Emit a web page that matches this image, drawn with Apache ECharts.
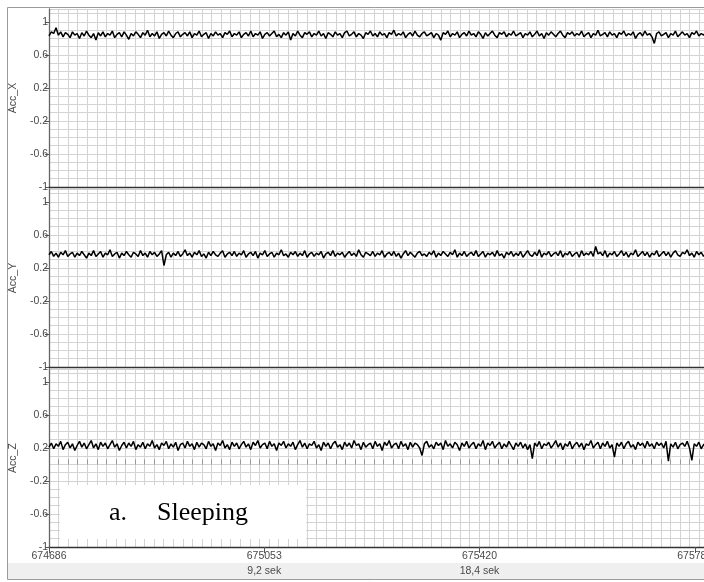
<!DOCTYPE html>
<html><head><meta charset="utf-8">
<script src="https://cdn.jsdelivr.net/npm/echarts@6/dist/echarts.min.js"></script>
<style>html,body{margin:0;padding:0;overflow:hidden;background:#fff}#c{width:740px;height:582px}</style>
</head><body><div id="c"></div><script>
const channels = ['Acc_X', 'Acc_Y', 'Acc_Z'];
const xTicks = [674686, 675053, 675420, 675787];
const timeLabels = ['', '9,2 sek', '18,4 sek', ''];
const yTicks = [-1, -0.6, -0.2, 0.2, 0.6, 1];
const sampleStart = 674686;
const sampleStep = 4;

const accX = [
0.83,0.88,0.86,0.93,0.84,0.88,0.82,0.87,0.85,0.81,0.88,0.84,0.86,0.80,0.87,0.83,0.89,0.84,0.81,0.86,
0.78,0.87,0.83,0.88,0.82,0.86,0.84,0.89,0.81,0.85,0.87,0.82,0.88,0.84,0.79,0.86,0.83,0.88,0.85,0.81,
0.87,0.84,0.90,0.82,0.86,0.83,0.88,0.80,0.85,0.87,0.83,0.89,0.84,0.81,0.86,0.88,0.82,0.85,0.87,0.83,
0.88,0.81,0.86,0.84,0.89,0.82,0.85,0.87,0.80,0.86,0.83,0.88,0.84,0.86,0.81,0.87,0.85,0.89,0.82,0.86,
0.84,0.88,0.81,0.85,0.87,0.83,0.89,0.82,0.86,0.84,0.88,0.80,0.85,0.87,0.83,0.86,0.89,0.82,0.85,0.81,
0.87,0.84,0.88,0.78,0.86,0.83,0.89,0.84,0.81,0.87,0.85,0.88,0.82,0.86,0.84,0.89,0.83,0.86,0.80,0.87,
0.85,0.82,0.88,0.84,0.86,0.81,0.87,0.89,0.83,0.85,0.88,0.82,0.86,0.84,0.80,0.87,0.85,0.89,0.83,0.86,
0.82,0.88,0.84,0.86,0.81,0.87,0.85,0.90,0.83,0.86,0.84,0.88,0.81,0.85,0.87,0.83,0.89,0.84,0.82,0.86,
0.88,0.83,0.85,0.87,0.81,0.86,0.84,0.78,0.87,0.85,0.89,0.82,0.86,0.84,0.88,0.81,0.85,0.87,0.83,0.89,
0.84,0.86,0.82,0.88,0.85,0.80,0.87,0.83,0.86,0.89,0.84,0.81,0.87,0.85,0.88,0.82,0.86,0.84,0.89,0.83,
0.85,0.87,0.81,0.86,0.84,0.88,0.82,0.85,0.89,0.83,0.86,0.80,0.87,0.84,0.88,0.85,0.82,0.86,0.89,0.84,
0.81,0.87,0.85,0.88,0.83,0.86,0.84,0.89,0.82,0.85,0.87,0.81,0.86,0.84,0.90,0.83,0.85,0.87,0.82,0.88,
0.84,0.86,0.81,0.87,0.85,0.89,0.83,0.86,0.84,0.88,0.80,0.85,0.87,0.83,0.89,0.84,0.86,0.82,0.74,0.86,
0.88,0.83,0.85,0.87,0.81,0.86,0.84,0.89,0.82,0.85,0.88,0.84,0.86,0.81,0.87,0.85,0.89,0.83,0.86,0.84,
0.88,0.82,0.85,0.87,0.83,0.86,0.84
];
const accY = [
0.36,0.40,0.34,0.38,0.33,0.39,0.36,0.41,0.34,0.37,0.39,0.33,0.38,0.35,0.40,0.36,0.32,0.38,0.35,0.41,
0.34,0.37,0.40,0.33,0.38,0.36,0.42,0.34,0.37,0.39,0.32,0.38,0.35,0.40,0.36,0.33,0.39,0.37,0.34,0.41,
0.35,0.38,0.33,0.40,0.36,0.39,0.34,0.37,0.41,0.23,0.36,0.39,0.33,0.38,0.35,0.40,0.34,0.37,0.42,0.35,
0.38,0.33,0.39,0.36,0.41,0.34,0.37,0.32,0.39,0.35,0.40,0.36,0.34,0.38,0.41,0.33,0.37,0.39,0.35,0.40,
0.34,0.38,0.36,0.41,0.33,0.37,0.39,0.35,0.40,0.32,0.38,0.36,0.41,0.34,0.37,0.39,0.33,0.38,0.36,0.42,
0.35,0.37,0.33,0.39,0.36,0.40,0.34,0.38,0.35,0.41,0.33,0.37,0.39,0.34,0.38,0.36,0.40,0.32,0.37,0.39,
0.35,0.41,0.34,0.38,0.36,0.39,0.33,0.37,0.40,0.35,0.38,0.34,0.42,0.36,0.33,0.39,0.37,0.35,0.40,0.34,
0.38,0.36,0.41,0.33,0.37,0.39,0.35,0.40,0.34,0.38,0.32,0.37,0.41,0.35,0.39,0.36,0.33,0.38,0.40,0.35,
0.37,0.34,0.39,0.36,0.41,0.33,0.38,0.35,0.40,0.37,0.34,0.39,0.36,0.42,0.33,0.38,0.35,0.40,0.34,0.37,
0.39,0.35,0.41,0.34,0.37,0.40,0.33,0.38,0.36,0.39,0.34,0.41,0.35,0.37,0.32,0.39,0.36,0.40,0.34,0.38,
0.35,0.40,0.33,0.37,0.41,0.36,0.34,0.39,0.35,0.42,0.33,0.38,0.36,0.40,0.34,0.37,0.39,0.35,0.41,0.33,
0.38,0.36,0.40,0.34,0.37,0.39,0.33,0.41,0.35,0.38,0.36,0.40,0.34,0.46,0.37,0.39,0.35,0.41,0.33,0.38,
0.36,0.40,0.34,0.37,0.41,0.35,0.39,0.33,0.38,0.36,0.42,0.34,0.37,0.40,0.35,0.39,0.33,0.38,0.36,0.41,
0.34,0.37,0.40,0.35,0.39,0.33,0.38,0.41,0.36,0.34,0.39,0.37,0.42,0.35,0.38,0.33,0.40,0.36,0.39,0.34,
0.38,0.41,0.35,0.37,0.40,0.34,0.38
];
const accZ = [
0.21,0.26,0.19,0.25,0.22,0.28,0.18,0.24,0.27,0.20,0.25,0.17,0.23,0.28,0.21,0.26,0.19,0.24,0.29,0.20,
0.25,0.18,0.27,0.22,0.26,0.19,0.24,0.29,0.21,0.25,0.17,0.23,0.27,0.20,0.26,0.22,0.28,0.18,0.24,0.21,
0.27,0.19,0.25,0.22,0.29,0.20,0.24,0.18,0.26,0.23,0.28,0.19,0.25,0.21,0.27,0.17,0.24,0.26,0.20,0.28,
0.22,0.25,0.18,0.27,0.21,0.26,0.24,0.19,0.28,0.22,0.25,0.17,0.26,0.23,0.29,0.20,0.24,0.18,0.27,0.22,
0.26,0.19,0.24,0.28,0.21,0.25,0.18,0.27,0.23,0.29,0.20,0.24,0.26,0.19,0.28,0.22,0.25,0.17,0.26,0.23,
0.28,0.20,0.25,0.22,0.27,0.18,0.24,0.29,0.21,0.26,0.19,0.25,0.23,0.28,0.20,0.24,0.17,0.27,0.22,0.26,
0.19,0.25,0.28,0.21,0.24,0.18,0.27,0.22,0.26,0.20,0.29,0.23,0.25,0.18,0.27,0.21,0.24,0.26,0.19,0.28,
0.22,0.25,0.17,0.27,0.23,0.29,0.20,0.24,0.26,0.19,0.28,0.22,0.25,0.18,0.27,0.21,0.26,0.24,0.20,0.11,
0.25,0.28,0.21,0.24,0.19,0.27,0.23,0.26,0.18,0.29,0.22,0.25,0.20,0.27,0.24,0.17,0.26,0.22,0.28,0.20,
0.24,0.27,0.19,0.25,0.22,0.29,0.18,0.26,0.23,0.28,0.20,0.24,0.27,0.19,0.25,0.21,0.28,0.23,0.18,0.26,
0.22,0.27,0.20,0.25,0.18,0.24,0.07,0.26,0.22,0.28,0.19,0.25,0.23,0.27,0.20,0.24,0.29,0.21,0.26,0.18,
0.25,0.22,0.28,0.19,0.24,0.27,0.21,0.26,0.18,0.25,0.23,0.29,0.20,0.24,0.27,0.19,0.26,0.22,0.28,0.20,
0.24,0.09,0.26,0.22,0.27,0.19,0.25,0.28,0.21,0.24,0.18,0.27,0.23,0.26,0.20,0.28,0.22,0.25,0.19,0.27,
0.23,0.26,0.20,0.28,0.04,0.25,0.21,0.27,0.19,0.24,0.26,0.22,0.28,0.20,0.05,0.25,0.22,0.27,0.19,0.24,
0.26,0.21,0.28,0.23,0.25,0.19,0.26
];
const seriesValues = [accX, accY, accZ];

const X_MIN = 674686, X_MAX = 675830, Y_MIN = -1, Y_MAX = 1.157;
const gridTops = [9, 189, 369];
const GRID_H = 178;
const labelColor = '#4a4a4a';
const gridColor = '#d3d3d3';
const font = 'Liberation Sans';

const grids = [], xAxes = [], yAxes = [], series = [];
channels.forEach((name, i) => {
  grids.push({ left: 47, top: gridTops[i], width: 673, height: GRID_H, containLabel: false });
  const isLast = i === channels.length - 1;
  const mainX = xAxes.length;
  xAxes.push({
    type: 'value', gridIndex: i, min: X_MIN, max: X_MAX, position: 'bottom', z: 4,
    axisLine: { show: true, onZero: false, lineStyle: { color: '#333', width: 1.4 } },
    axisTick: { show: isLast, length: 6, customValues: xTicks, lineStyle: { color: '#555' } },
    axisLabel: { show: isLast, customValues: xTicks, margin: 4, fontSize: 10.5, color: labelColor, fontFamily: font,
      formatter: v => String(v) },
    splitLine: { show: false }
  });
  xAxes.push({
    type: 'value', gridIndex: i, min: X_MIN, max: X_MAX, interval: 16.3, position: isLast ? 'bottom' : 'top',
    axisLine: { show: false },
    axisTick: { show: isLast, inside: true, length: 5, lineStyle: { color: '#999' } },
    axisLabel: { show: false },
    splitLine: { show: true, lineStyle: { color: gridColor, width: 1 } }
  });
  if (isLast) {
    xAxes.push({
      type: 'value', gridIndex: i, min: X_MIN, max: X_MAX, position: 'bottom', offset: 17,
      axisLine: { show: false }, axisTick: { show: false }, splitLine: { show: false },
      axisLabel: { show: true, customValues: xTicks.slice(1, 3), margin: 2, fontSize: 10.5, color: labelColor, fontFamily: font,
        formatter: v => timeLabels[xTicks.indexOf(v)] || '' }
    });
  }
  const mainY = yAxes.length;
  yAxes.push({
    type: 'value', gridIndex: i, min: Y_MIN, max: Y_MAX, position: 'left', z: 4,
    name: name, nameLocation: 'middle', nameGap: 27, nameRotate: 90,
    nameTextStyle: { fontSize: 10.5, color: labelColor, fontFamily: font },
    axisLine: { show: true, onZero: false, lineStyle: { color: '#666', width: 1.3 } },
    axisTick: { show: true, length: 4, customValues: yTicks, lineStyle: { color: '#555' } },
    axisLabel: { show: true, customValues: yTicks, margin: 1, fontSize: 10.5, color: labelColor, fontFamily: font,
      formatter: v => String(Math.round(v * 10) / 10) },
    splitLine: { show: false }
  });
  yAxes.push({
    type: 'value', gridIndex: i, min: Y_MIN, max: Y_MAX, interval: 0.1, position: 'right',
    axisLine: { show: false }, axisTick: { show: false }, axisLabel: { show: false },
    splitLine: { show: true, lineStyle: { color: gridColor, width: 1 } }
  });
  series.push({
    type: 'line', name: name, xAxisIndex: mainX, yAxisIndex: mainY,
    showSymbol: false, symbol: 'none', clip: true, z: 5,
    lineStyle: { color: '#000', width: 1.5 },
    data: seriesValues[i].map((v, k) => [sampleStart + k * sampleStep, v])
  });
});

const chart = echarts.init(document.getElementById('c'), null, { renderer: 'canvas' });
chart.setOption({
  animation: false,
  backgroundColor: '#ffffff',
  grid: grids, xAxis: xAxes, yAxis: yAxes, series: series,
  graphic: [
    { type: 'rect', z: -10, shape: { x: 7, y: 563, width: 740, height: 16 }, style: { fill: '#efefef' } },
    { type: 'rect', z: 50, shape: { x: 7.5, y: 7.5, width: 740, height: 572 }, style: { fill: 'none', stroke: '#9a9a9a', lineWidth: 1 } },
    { type: 'rect', z: 100, shape: { x: 60, y: 485, width: 246, height: 54 }, style: { fill: '#ffffff' } },
    { type: 'text', z: 101, x: 109, y: 513, style: { text: 'a.', font: '26px "Liberation Serif"', fill: '#000', verticalAlign: 'middle' } },
    { type: 'text', z: 101, x: 157, y: 513, style: { text: 'Sleeping', font: '26px "Liberation Serif"', fill: '#000', verticalAlign: 'middle' } }
  ]
});
</script></body></html>
